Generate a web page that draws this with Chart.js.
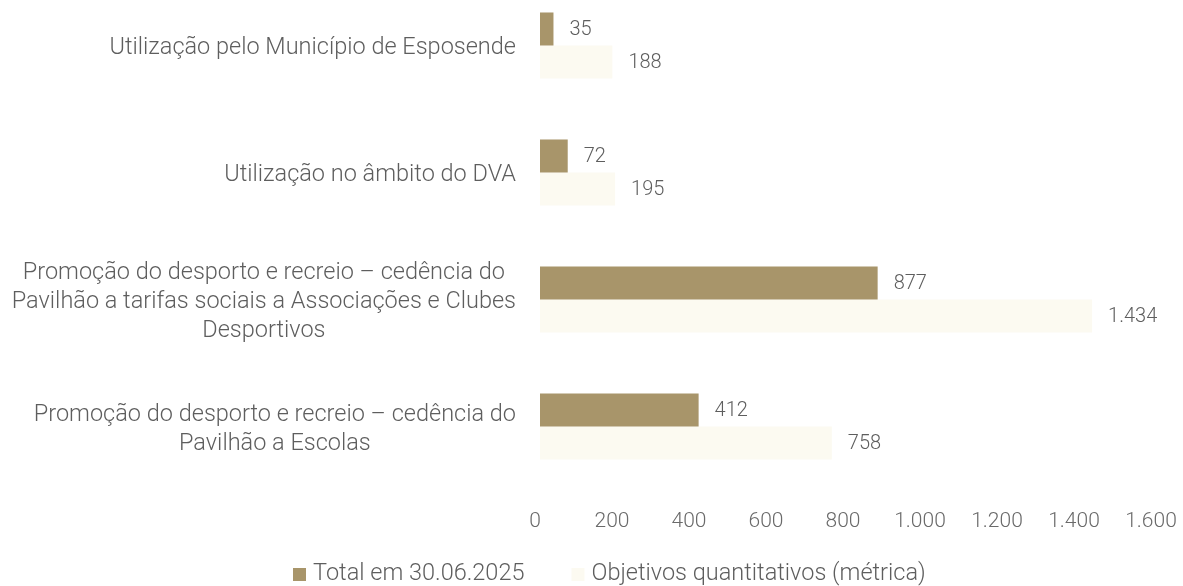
<!DOCTYPE html>
<html>
<head>
<meta charset="utf-8">
<script src="https://cdn.jsdelivr.net/npm/chart.js@4.4.1/dist/chart.umd.min.js"></script>
<style>
  html, body { margin: 0; padding: 0; background: #ffffff; }
  #wrap { width: 1183px; height: 586px; overflow: hidden; position: relative; }
  #chart { position: absolute; left: 0; top: -18px; }
</style>
</head>
<body>
<div id="wrap"><canvas id="chart" width="1183" height="604"></canvas></div>
<script>
// data
const categories = [
    ["Utilização pelo Município de Esposende"],
    ["Utilização no âmbito do DVA"],
    ["Promoção do desporto e recreio – cedência do", "Pavilhão a tarifas sociais a Associações e Clubes", "Desportivos"],
    ["Promoção do desporto e recreio – cedência do", "Pavilhão a Escolas"]
];
const seriesNames = ["Total em 30.06.2025", "Objetivos quantitativos (métrica)"];
const totalValues = [35, 72, 877, 412];
const targetValues = [188, 195, 1434, 758];
const xTicks = [0, 200, 400, 600, 800, 1000, 1200, 1400, 1600];

const brown = '#a8956a';
const cream = '#fcfaf1';
const textColor = '#5e5e5e';
const fontFamily = "Roboto, 'Liberation Sans', sans-serif";

function fmt(n) {
    return String(n).replace(/\B(?=(\d{3})+(?!\d))/g, '.');
}

// category labels (lines centred on the block), value labels and legend
const textPlugin = {
    id: 'textPlugin',
    afterDraw(chart) {
        const ctx = chart.ctx;
        const yScale = chart.scales.y;
        ctx.save();
        ctx.fillStyle = textColor;
        ctx.textBaseline = 'middle';

        ctx.font = '300 23.5px ' + fontFamily;
        ctx.textAlign = 'center';
        const labelRight = yScale.right - 24;
        categories.forEach((lines, i) => {
            const widest = Math.max(...lines.map(l => ctx.measureText(l).width));
            const cx = labelRight - widest / 2;
            const cy = yScale.getPixelForValue(i) + 3;
            lines.forEach((line, j) => {
                ctx.fillText(line, cx, cy + (j - (lines.length - 1) / 2) * 29);
            });
        });

        ctx.font = '300 20px ' + fontFamily;
        ctx.textAlign = 'left';
        chart.data.datasets.forEach((ds, di) => {
            const meta = chart.getDatasetMeta(di);
            meta.data.forEach((bar, i) => {
                ctx.fillText(fmt(ds.data[i]), bar.x + 16, bar.y + 1);
            });
        });

        // legend
        ctx.font = '300 23.5px ' + fontFamily;
        const ly = 592;
        let lx = 293;
        chart.data.datasets.forEach((ds) => {
            ctx.fillStyle = ds.backgroundColor;
            ctx.fillRect(lx, ly - 6, 13, 13);
            ctx.fillStyle = textColor;
            ctx.fillText(ds.label, lx + 20, ly);
            lx += 20 + ctx.measureText(ds.label).width + 47;
        });
        ctx.restore();
    }
};

new Chart(document.getElementById('chart'), {
    type: 'bar',
    data: {
        labels: categories,
        datasets: [{
            label: seriesNames[0],
            data: totalValues,
            backgroundColor: brown,
            categoryPercentage: 0.52,
            barPercentage: 1
        }, {
            label: seriesNames[1],
            data: targetValues,
            backgroundColor: cream,
            categoryPercentage: 0.52,
            barPercentage: 1
        }]
    },
    options: {
        indexAxis: 'y',
        responsive: false,
        animation: false,
        layout: { padding: { top: 0, right: 27, bottom: 0, left: 0 } },
        plugins: {
            legend: { display: false },
            tooltip: { enabled: false }
        },
        scales: {
            x: {
                min: 0,
                max: 1600,
                afterBuildTicks: (scale) => { scale.ticks = xTicks.map(v => ({ value: v })); },
                afterFit: (scale) => {
                    scale.height = 96;
                    scale.paddingLeft = 0;
                    scale.paddingRight = 0;
                },
                grid: { display: false, drawTicks: false },
                border: { display: false },
                ticks: {
                    padding: 19,
                    labelOffset: -5,
                    color: '#6a6a6a',
                    font: { family: fontFamily, size: 21, weight: 300 },
                    callback: (v) => fmt(v)
                }
            },
            y: {
                afterFit: (scale) => { scale.width = 540; },
                grid: { display: false, drawTicks: false },
                border: { display: false },
                ticks: { display: false }
            }
        }
    },
    plugins: [textPlugin]
});
</script>
</body>
</html>
